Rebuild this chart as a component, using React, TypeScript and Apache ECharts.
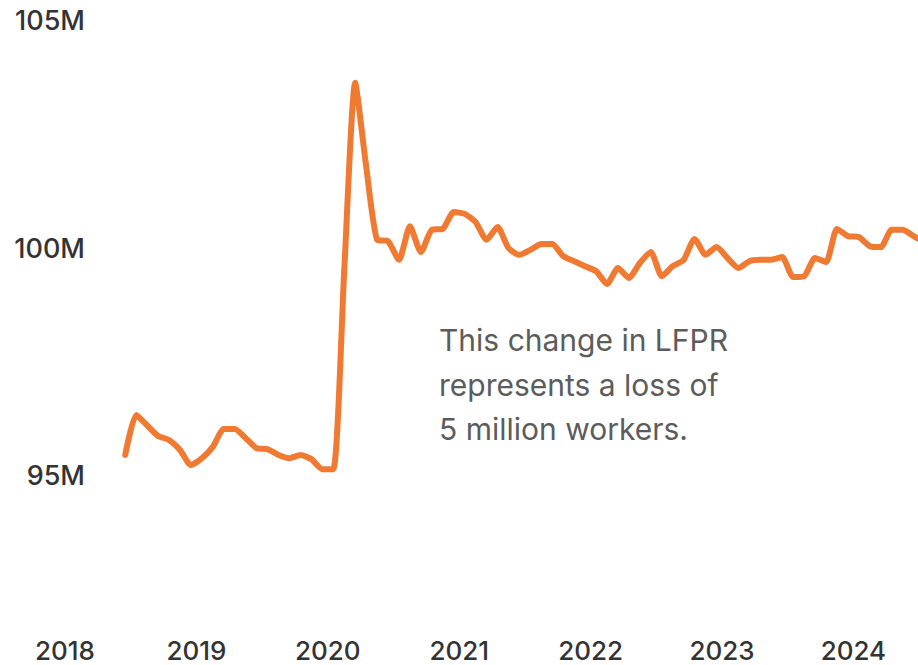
import React, { useEffect, useRef } from "react";
import * as echarts from "echarts";

// Monthly values (millions), starting June 2018
const startYear = 2018;
const startMonth = 6; // June
const values: number[] = [
  95.45, 96.33, 96.1, 95.87, 95.78, 95.56, 95.23, // 2018 Jun-Dec
  95.38, 95.63, 96.02, 96.02, 95.82, 95.6, 95.58, 95.45, 95.38, 95.45, 95.36, 95.14, // 2019
  95.14, 99.5, 103.63, 101.8, 100.18, 100.15, 99.74, 100.48, 99.91, 100.4, 100.42, 100.79, // 2020
  100.75, 100.57, 100.18, 100.46, 100.0, 99.85, 99.96, 100.09, 100.09, 99.82, 99.71, 99.6, // 2021
  99.49, 99.21, 99.56, 99.34, 99.67, 99.91, 99.38, 99.6, 99.74, 100.2, 99.85, 100.02, // 2022
  99.78, 99.56, 99.71, 99.74, 99.74, 99.8, 99.36, 99.38, 99.78, 99.69, 100.42, 100.26, // 2023
  100.24, 100.04, 100.02, 100.4, 100.4, 100.26, 100.13, // 2024 Jan-Jul
];
const yearLabels = ["2018", "2019", "2020", "2021", "2022", "2023", "2024"];
const yTicks = [95, 100, 105];
const noteLines = ["This change in LFPR", "represents a loss of", "5 million workers."];

const FONT = "Inter, 'Noto Sans', sans-serif";

export default function App() {
  const ref = useRef<HTMLDivElement>(null);
  useEffect(() => {
    if (!ref.current) return;
    const chart = echarts.init(ref.current, undefined, { renderer: "svg" });
    const offset = (startYear - 2018) * 12 + (startMonth - 1);
    const data = values.map((v, i) => [offset + i + 0.5, v]);
    chart.setOption({
      animation: false,
      backgroundColor: "#ffffff",
      grid: { left: 65, right: 0, top: 20.5, bottom: 75.75, containLabel: false },
      xAxis: {
        type: "value",
        min: 0,
        max: 77.9,
        interval: 12,
        axisLine: { show: false },
        axisTick: { show: false },
        splitLine: { show: false },
        axisLabel: {
          margin: 50,
          fontFamily: FONT,
          fontSize: 26,
          lineHeight: 22,
          fontWeight: 500,
          color: "#333333",
          showMaxLabel: false,
          formatter: (v: number) => {
            const idx = Math.round(v / 12);
            return Math.abs(v - idx * 12) < 1e-6 && yearLabels[idx] ? yearLabels[idx] : "";
          },
        },
      },
      yAxis: {
        type: "value",
        min: 92.5,
        max: 105,
        interval: 2.5,
        axisLine: { show: false },
        axisTick: { show: false },
        splitLine: { show: false },
        axisLabel: {
          margin: -20,
          fontFamily: FONT,
          fontSize: 27,
          fontWeight: 500,
          color: "#333333",
          formatter: (v: number) => (yTicks.includes(v) ? `${v}M` : ""),
        },
      },
      graphic: [
        {
          type: "text",
          left: 439,
          top: 318,
          style: {
            text: noteLines.join("\n"),
            font: `400 30px ${FONT}`,
            lineHeight: 44.5,
            fill: "#5c5c5c",
          },
        },
      ],
      series: [
        {
          type: "line",
          data,
          showSymbol: false,
          smooth: 0.2,
          clip: true,
          lineStyle: { color: "#F17A32", width: 6, cap: "round", join: "round" },
        },
      ],
    });
    return () => chart.dispose();
  }, []);
  return (
    <div
      ref={ref}
      style={{ position: "fixed", left: 0, top: 0, width: 918, height: 665, background: "#fff" }}
    />
  );
}
